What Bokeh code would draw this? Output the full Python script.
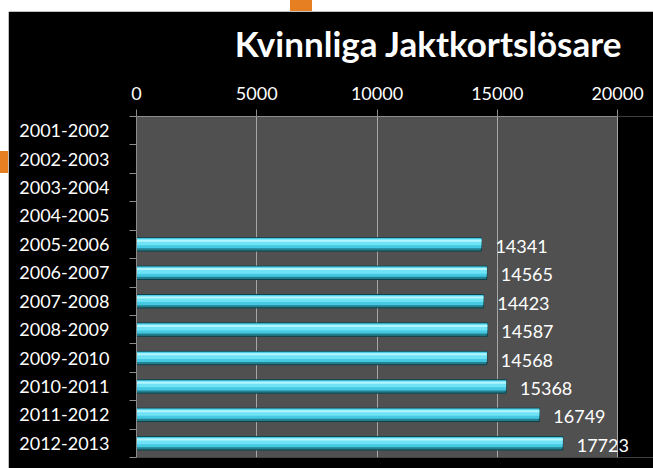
from bokeh.plotting import figure
from bokeh.models import Range1d, FixedTicker, ColumnDataSource, Spacer, LabelSet
from bokeh.layouts import column, row
from bokeh.transform import dodge
from bokeh.core.properties import value
from bokeh.embed import file_html
from bokeh.resources import INLINE

title_text = "Kvinnliga Jaktkortslösare"
categories = ["2001-2002", "2002-2003", "2003-2004", "2004-2005", "2005-2006",
              "2006-2007", "2007-2008", "2008-2009", "2009-2010", "2010-2011",
              "2011-2012", "2012-2013"]
values = [None, None, None, None, 14341, 14565, 14423, 14587, 14568, 15368, 16749, 17723]
x_ticks = [0, 5000, 10000, 15000, 20000]

idx = [i for i, v in enumerate(values) if v is not None]
source = ColumnDataSource(dict(
    y=[i + 0.5 for i in idx],
    v=[values[i] for i in idx],
    lab=[str(values[i]) for i in idx],
))

FONT = "Lato"
# the frame runs to the right edge so that the last label can spill over the grey panel
x_end = x_ticks[-1] * 517 / 481

p = figure(width=645, height=457,
           x_range=Range1d(x_ticks[0], x_end), y_range=Range1d(len(categories), 0),
           x_axis_location="above", output_backend="svg", toolbar_location=None,
           min_border_left=128, min_border_right=0, min_border_top=105, min_border_bottom=11,
           background_fill_color="black", border_fill_color="black",
           outline_line_color=None)

p.title.text = title_text
p.title.text_font = FONT
p.title.text_font_size = "35px"
p.title.text_font_style = "bold"
p.title.text_color = "white"
p.title.align = "right"
p.title.offset = 31

# grey plot panel spanning the value axis
p.quad(left=x_ticks[0], right=x_ticks[-1], top=0, bottom=len(categories),
       fill_color="#505050", line_color=None, level="image")

# bars with a cylinder-like shading
p.hbar(y="y", left=0, right="v", height=0.47, source=source,
       fill_color="#22808f", line_color="#0f3f48", line_width=1)
p.hbar(y=dodge("y", -0.04, range=p.y_range), left=0, right="v", height=0.36, source=source,
       fill_color="#45c9e2", line_color=None)
p.hbar(y=dodge("y", -0.08, range=p.y_range), left=0, right="v", height=0.22, source=source,
       fill_color="#6fe2f6", line_color=None)
p.hbar(y=dodge("y", -0.13, range=p.y_range), left=0, right="v", height=0.07, source=source,
       fill_color="#b3f5fd", line_color=None)

labels = LabelSet(x="v", y="y", text="lab", source=source, x_offset=14, y_offset=-2,
                  text_baseline="middle", text_align="left", text_color="white",
                  text_font=value(FONT), text_font_size="18px")
p.add_layout(labels)

ax = p.xaxis[0]
ax.ticker = FixedTicker(ticks=x_ticks)
ax.bounds = (x_ticks[0], x_ticks[-1])
ax.axis_line_color = "#8c8c8c"
ax.major_tick_line_color = "#8c8c8c"
ax.major_tick_out = 7
ax.major_tick_in = 0
ax.minor_tick_line_color = None
ax.major_label_text_color = "white"
ax.major_label_text_font = FONT
ax.major_label_text_font_size = "18px"
ax.major_label_standoff = 10
# invisible label only pushes the chart title a little further up
ax.axis_label = " "
ax.axis_label_text_font_size = "11px"
ax.axis_label_standoff = 0

ay = p.yaxis[0]
ay.ticker = FixedTicker(ticks=[i + 0.5 for i in range(len(categories))],
                        minor_ticks=list(range(len(categories) + 1)))
ay.major_label_overrides = {i + 0.5: c for i, c in enumerate(categories)}
ay.axis_line_color = "#8c8c8c"
ay.major_tick_line_color = None
ay.major_tick_out = 0
ay.major_tick_in = 0
ay.minor_tick_line_color = "#8c8c8c"
ay.minor_tick_out = 7
ay.minor_tick_in = 0
ay.major_label_text_color = "white"
ay.major_label_text_font = FONT
ay.major_label_text_font_size = "18px"
ay.major_label_standoff = 20

p.xgrid.grid_line_color = "#a6a6a6"
p.xgrid.ticker = FixedTicker(ticks=x_ticks)
p.ygrid.grid_line_color = None

ORANGE = "#e67e22"
top_strip = row(Spacer(width=282, height=11),
                Spacer(width=22, height=11, styles={"background-color": ORANGE}),
                Spacer(width=341, height=11), spacing=0)
left_strip = column(Spacer(width=8, height=151),
                    Spacer(width=8, height=22, styles={"background-color": ORANGE}),
                    Spacer(width=8, height=295), spacing=0)
layout = row(left_strip, column(top_strip, p, spacing=0), spacing=0)
open("out.html", "w").write(file_html(layout, INLINE))
